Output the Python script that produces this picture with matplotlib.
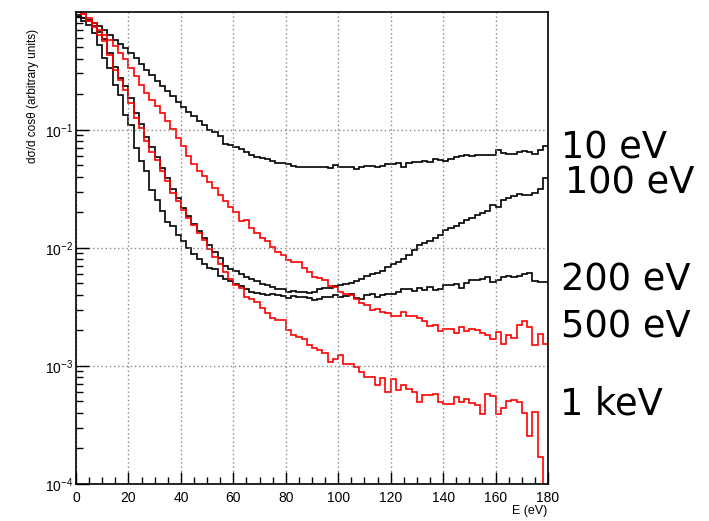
import matplotlib
matplotlib.use("Agg")
import matplotlib.pyplot as plt
from matplotlib.ticker import MultipleLocator, LogLocator, NullFormatter
import numpy as np

# bin edges: 90 bins of 2 eV from 0 to 180
edges = np.arange(0, 182, 2)

# values, in decades (log10 of the y value)
log_10ev = [-0.048, -0.054, -0.068, -0.096, -0.124, -0.153, -0.195, -0.237, -0.274, -0.308,
            -0.350, -0.393, -0.444, -0.492, -0.534, -0.585, -0.633, -0.675, -0.718, -0.766,
            -0.811, -0.850, -0.887, -0.924, -0.958, -1.000, -1.020, -1.056, -1.121, -1.127,
            -1.150, -1.164, -1.184, -1.212, -1.232, -1.237, -1.246, -1.268, -1.280, -1.285,
            -1.291, -1.308, -1.314, -1.314, -1.319, -1.314, -1.314, -1.319, -1.322, -1.297,
            -1.314, -1.319, -1.319, -1.328, -1.316, -1.308, -1.308, -1.314, -1.308, -1.288,
            -1.288, -1.282, -1.314, -1.282, -1.274, -1.274, -1.268, -1.274, -1.246, -1.254,
            -1.263, -1.246, -1.234, -1.226, -1.212, -1.226, -1.217, -1.212, -1.212, -1.212,
            -1.169, -1.198, -1.203, -1.203, -1.192, -1.178, -1.189, -1.201, -1.172, -1.136]

log_100ev = [-0.03, -0.05, -0.08, -0.12, -0.17, -0.23, -0.35, -0.47, -0.56, -0.63,
             -0.73, -0.86, -0.95, -1.06, -1.15, -1.23, -1.32, -1.41, -1.50, -1.58,
             -1.66, -1.73, -1.80, -1.86, -1.92, -1.98, -2.034, -2.090, -2.153, -2.175,
             -2.198, -2.218, -2.246, -2.260, -2.282, -2.308, -2.316, -2.331, -2.345, -2.345,
             -2.373, -2.367, -2.373, -2.373, -2.379, -2.373, -2.350, -2.339, -2.339, -2.322,
             -2.316, -2.308, -2.294, -2.277, -2.260, -2.240, -2.218, -2.213, -2.198, -2.164,
             -2.141, -2.120, -2.096, -2.062, -2.020, -1.980, -1.960, -1.941, -1.918, -1.890,
             -1.853, -1.833, -1.819, -1.791, -1.768, -1.743, -1.720, -1.701, -1.686, -1.636,
             -1.650, -1.593, -1.579, -1.565, -1.545, -1.556, -1.556, -1.537, -1.503, -1.410]

log_200ev = [-0.048, -0.082, -0.110, -0.181, -0.280, -0.393, -0.477, -0.619, -0.703, -0.873,
             -0.958, -1.155, -1.268, -1.353, -1.508, -1.593, -1.692, -1.777, -1.819, -1.890,
             -1.946, -1.999, -2.048, -2.096, -2.141, -2.169, -2.181, -2.237, -2.260, -2.282,
             -2.302, -2.322, -2.345, -2.373, -2.381, -2.395, -2.401, -2.395, -2.401, -2.410,
             -2.424, -2.410, -2.415, -2.418, -2.424, -2.444, -2.429, -2.415, -2.415, -2.401,
             -2.415, -2.407, -2.395, -2.424, -2.435, -2.401, -2.395, -2.415, -2.401, -2.393,
             -2.387, -2.373, -2.350, -2.345, -2.364, -2.339, -2.359, -2.331, -2.356, -2.350,
             -2.316, -2.311, -2.305, -2.336, -2.294, -2.274, -2.274, -2.260, -2.251, -2.288,
             -2.271, -2.246, -2.237, -2.249, -2.237, -2.220, -2.209, -2.282, -2.288, -2.288]

log_500ev = [-0.000, -0.020, -0.054, -0.096, -0.153, -0.195, -0.237, -0.294, -0.350, -0.398,
             -0.477, -0.548, -0.619, -0.689, -0.746, -0.802, -0.859, -0.929, -0.992, -1.070,
             -1.140, -1.220, -1.290, -1.353, -1.395, -1.444, -1.494, -1.551, -1.602, -1.650,
             -1.698, -1.771, -1.763, -1.833, -1.876, -1.918, -1.946, -1.990, -2.034, -2.062,
             -2.105, -2.119, -2.124, -2.169, -2.203, -2.246, -2.254, -2.274, -2.322, -2.331,
             -2.373, -2.387, -2.401, -2.429, -2.463, -2.480, -2.528, -2.520, -2.542, -2.548,
             -2.576, -2.576, -2.542, -2.579, -2.579, -2.593, -2.621, -2.664, -2.655, -2.706,
             -2.689, -2.684, -2.718, -2.669, -2.706, -2.684, -2.698, -2.718, -2.740, -2.774,
             -2.712, -2.811, -2.740, -2.763, -2.650, -2.616, -2.669, -2.825, -2.726, -2.811]

log_1kev = [-0.003, -0.020, -0.082, -0.133, -0.195, -0.251, -0.364, -0.492, -0.576, -0.661,
            -0.774, -0.901, -0.986, -1.099, -1.184, -1.254, -1.353, -1.438, -1.537, -1.607,
            -1.678, -1.749, -1.805, -1.876, -1.932, -2.006, -2.076, -2.133, -2.203, -2.260,
            -2.316, -2.339, -2.415, -2.435, -2.458, -2.508, -2.556, -2.593, -2.613, -2.613,
            -2.698, -2.734, -2.754, -2.774, -2.819, -2.847, -2.867, -2.887, -2.966, -2.938,
            -2.910, -2.980, -2.980, -3.008, -3.051, -3.093, -3.093, -3.164, -3.102, -3.220,
            -3.110, -3.206, -3.164, -3.198, -3.220, -3.305, -3.243, -3.243, -3.234, -3.305,
            -3.319, -3.319, -3.263, -3.305, -3.277, -3.311, -3.333, -3.404, -3.234, -3.257,
            -3.404, -3.356, -3.299, -3.291, -3.305, -3.400, -3.590, -3.390, -3.770, -5.0]

series = [("10 eV", log_10ev, "black"),
          ("100 eV", log_100ev, "black"),
          ("200 eV", log_200ev, "black"),
          ("500 eV", log_500ev, "red"),
          ("1 keV", log_1kev, "red")]

# label positions on the right (figure pixels)
label_x = {"10 eV": 561, "100 eV": 565, "200 eV": 561, "500 eV": 561, "1 keV": 560}
label_y = {"10 eV": 148, "100 eV": 183, "200 eV": 280, "500 eV": 327, "1 keV": 404}

W, H = 709, 521
fig = plt.figure(figsize=(W / 100, H / 100), dpi=100)
ax = fig.add_axes([76 / W, 1 - 484 / H, (548 - 76) / W, (484 - 11.7) / H])

for name, logs, col in series:
    ax.stairs(10 ** np.array(logs), edges, color=col, lw=1.2, baseline=None)

ax.set_yscale("log")
ax.set_xlim(0, 180)
ax.set_ylim(1e-4, 1)

ax.xaxis.set_major_locator(MultipleLocator(20))
ax.xaxis.set_minor_locator(MultipleLocator(5))
ax.set_yticks([1e-4, 1e-3, 1e-2, 1e-1])
ax.yaxis.set_minor_locator(LogLocator(base=10, subs=np.arange(2, 10)))
ax.yaxis.set_minor_formatter(NullFormatter())

ax.tick_params(which="both", direction="in", top=False, right=False, labelsize=10, colors="black")
ax.tick_params(which="major", length=9, width=1)
ax.tick_params(which="minor", length=5, width=1)
ax.tick_params(axis="x", pad=5)
ax.tick_params(axis="y", pad=2)
for lab in ax.get_xticklabels() + ax.get_yticklabels():
    lab.set_family("Liberation Sans")

ax.grid(True, which="major", color="#888888", linestyle=(0, (1, 2)), lw=1)

for sp in ax.spines.values():
    sp.set_linewidth(1.2)

fig.text(547 / W, 1 - 511 / H, "E (eV)", ha="right", va="center", fontsize=9,
         family="Liberation Sans")
fig.text(33 / W, 1 - 96 / H, "dσ/d cosθ (arbitrary units)", rotation=90,
         ha="center", va="center", fontsize=8.5, family="Liberation Sans")

for name, logs, col in series:
    fig.text(label_x[name] / W, 1 - label_y[name] / H, name, ha="left", va="center", fontsize=26.5)

fig.savefig("out.png", dpi=100)
